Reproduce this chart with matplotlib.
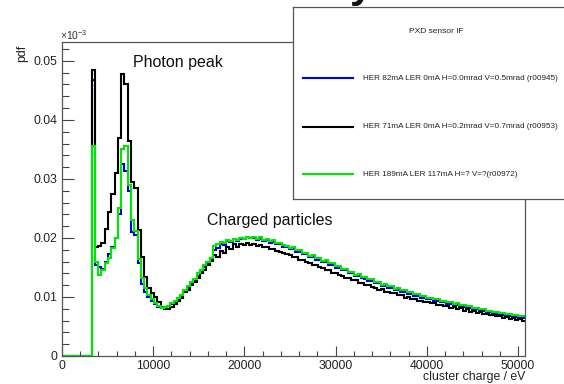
import numpy as np
import matplotlib
matplotlib.use('Agg')
import matplotlib.pyplot as plt
from matplotlib.ticker import MultipleLocator, FuncFormatter

plt.rcParams['font.family'] = ['Liberation Sans', 'DejaVu Sans']
plt.rcParams['mathtext.fontset'] = 'custom'
plt.rcParams['mathtext.rm'] = 'Liberation Sans'
plt.rcParams['mathtext.it'] = 'Liberation Sans:italic'

BIN_WIDTH = 360   # eV
N_BINS = 141
N_EMPTY = 9       # bins below threshold (all zero)

# pdf per bin, in the axis units (x10^-3 is shown separately) times 1000
# bins 9 .. 140
her82_r945 = [
    46.8, 15.5, 15.0, 14.8, 16.0, 17.2, 18.5, 20.0, 24.0, 32.5,
    31.3, 28.0, 21.0, 20.5, 15.8, 12.2, 10.8, 10.0, 9.4, 8.8,
    8.3, 8.1, 8.2, 8.4, 8.8, 9.2, 9.7, 10.2, 11.0, 11.5,
    12.3, 12.8, 13.6, 14.3, 15.0, 15.7, 16.4, 17.9, 18.3, 18.9,
    18.8, 19.4, 19.3, 19.8, 19.5, 19.9, 19.8, 20.1, 20.0, 20.0,
    19.7, 19.9, 19.5, 19.6, 19.2, 19.3, 18.9, 18.9, 18.5, 18.5,
    18.1, 18.1, 17.7, 17.6, 17.2, 17.2, 16.8, 16.8, 16.3, 16.3,
    15.9, 15.9, 15.4, 15.4, 14.9, 14.9, 14.5, 14.5, 14.0, 14.0,
    13.6, 13.6, 13.2, 13.1, 12.7, 12.7, 12.3, 12.3, 11.9, 11.9,
    11.5, 11.5, 11.2, 11.1, 10.8, 10.8, 10.5, 10.5, 10.2, 10.2,
    9.9, 9.9, 9.6, 9.6, 9.4, 9.3, 9.1, 9.1, 8.8, 8.8,
    8.6, 8.6, 8.3, 8.3, 8.1, 8.1, 7.9, 7.9, 7.7, 7.6,
    7.4, 7.4, 7.2, 7.2, 7.0, 7.0, 6.8, 6.8, 6.7, 6.6,
    6.5, 6.4,
]
her71_r953 = [
    48.5, 18.4, 18.6, 19.1, 21.6, 24.4, 27.5, 31.0, 37.0, 47.8,
    46.0, 36.5, 29.5, 28.5, 21.3, 16.8, 13.4, 11.5, 10.7, 10.0,
    9.2, 8.3, 7.9, 8.0, 8.3, 8.8, 9.3, 9.9, 10.8, 11.2,
    12.0, 12.5, 13.2, 14.0, 14.6, 15.4, 16.1, 17.1, 16.8, 17.8,
    17.5, 18.5, 18.1, 18.9, 18.5, 19.0, 18.8, 19.1, 18.8, 18.9,
    18.7, 18.8, 18.4, 18.5, 18.1, 18.2, 17.8, 17.7, 17.5, 17.2,
    17.1, 16.8, 16.7, 16.3, 16.3, 15.9, 15.8, 15.4, 15.4, 15.0,
    14.9, 14.5, 14.5, 14.1, 14.0, 13.7, 13.6, 13.3, 13.2, 12.8,
    12.8, 12.4, 12.4, 12.0, 12.0, 11.7, 11.6, 11.2, 11.3, 10.9,
    10.9, 10.6, 10.6, 10.3, 10.3, 9.9, 10.0, 9.7, 9.7, 9.4,
    9.4, 9.1, 9.2, 8.9, 8.9, 8.6, 8.7, 8.4, 8.5, 8.1,
    8.3, 7.9, 8.1, 7.7, 7.9, 7.4, 7.6, 7.3, 7.5, 7.1,
    7.2, 6.9, 7.0, 6.7, 6.8, 6.5, 6.6, 6.3, 6.4, 6.1,
    6.2, 5.9,
]
her189_r972 = [
    35.5, 16.0, 13.7, 14.6, 15.8, 16.6, 18.3, 20.0, 25.0, 35.0,
    35.5, 29.0, 23.0, 21.2, 16.5, 13.2, 11.5, 10.4, 9.6, 8.9,
    8.4, 8.2, 8.3, 8.5, 8.9, 9.3, 9.9, 10.4, 11.2, 11.8,
    12.6, 13.1, 14.0, 14.6, 15.4, 16.0, 16.6, 18.6, 18.9, 19.3,
    19.2, 19.6, 19.5, 19.9, 19.7, 20.0, 19.9, 20.2, 20.0, 20.2,
    19.9, 20.1, 19.7, 19.8, 19.4, 19.6, 19.1, 19.2, 18.8, 18.7,
    18.3, 18.4, 17.9, 17.9, 17.5, 17.5, 17.0, 17.1, 16.6, 16.6,
    16.1, 16.2, 15.7, 15.7, 15.2, 15.2, 14.7, 14.8, 14.3, 14.3,
    13.8, 13.9, 13.4, 13.4, 13.0, 13.0, 12.5, 12.6, 12.1, 12.2,
    11.8, 11.8, 11.4, 11.5, 11.1, 11.1, 10.8, 10.8, 10.5, 10.5,
    10.2, 10.2, 9.9, 9.9, 9.6, 9.7, 9.3, 9.4, 9.1, 9.1,
    8.8, 8.9, 8.6, 8.6, 8.4, 8.4, 8.1, 8.2, 7.9, 7.9,
    7.7, 7.7, 7.5, 7.5, 7.3, 7.3, 7.1, 7.1, 6.9, 7.0,
    6.8, 6.8,
]

labels = ['HER 82mA LER 0mA H=0.0mrad V=0.5mrad (r00945)',
          'HER 71mA LER 0mA H=0.2mrad V=0.7mrad (r00953)',
          'HER 189mA LER 117mA H=? V=?(r00972)']
colors = ['#0000e6', '#000000', '#00e600']
series = [her82_r945, her71_r953, her189_r972]

edges = np.arange(N_BINS + 1) * BIN_WIDTH

fig = plt.figure(figsize=(5.64, 3.84), dpi=100)
ax = fig.add_axes([62 / 564, 28 / 384, 463 / 564, 314 / 384])

for vals, c in zip(series, colors):
    y = np.concatenate([np.zeros(N_EMPTY), vals]) / 1000
    ax.stairs(y, edges, color=c, lw=1.5, baseline=None)

ax.set_xlim(edges[0], edges[-1])
ax.set_ylim(0, 0.0532)

ax.xaxis.set_major_locator(MultipleLocator(10000))
ax.xaxis.set_minor_locator(MultipleLocator(2000))
ax.yaxis.set_major_locator(MultipleLocator(0.01))
ax.yaxis.set_minor_locator(MultipleLocator(0.002))
ax.yaxis.set_major_formatter(FuncFormatter(lambda v, p: f'{v:g}'))
ax.xaxis.set_major_formatter(FuncFormatter(lambda v, p: f'{v:g}'))

ax.tick_params(which='both', direction='in', top=False, right=False,
               color='#444444', labelsize=8.8, labelcolor='#222222', width=0.8)
ax.tick_params(axis='x', which='major', length=7.2, pad=3.2)
ax.tick_params(axis='x', which='minor', length=3.6)
ax.tick_params(axis='y', which='major', length=8.6, pad=3.0)
ax.tick_params(axis='y', which='minor', length=4.8)
for s in ax.spines.values():
    s.set_color('#555555')
    s.set_linewidth(0.9)

ax.text(7830, 0.0489, 'Photon peak', fontsize=11.5, va='baseline', color='#111111')
ax.text(15860, 0.0222, 'Charged particles', fontsize=11.5, va='baseline', color='#111111')

fig.text(60 / 564, 1 - 42 / 384, r'$\times$10$^{-3}$', fontsize=7.5, va='bottom',
         ha='left', color='#333333')
fig.text(22 / 564, 1 - 45 / 384, 'pdf', rotation=90, fontsize=8.8, va='top',
         ha='center', color='#222222')
fig.text(525 / 564, 1 - 380 / 384, 'cluster charge / eV', fontsize=8.8, va='baseline',
         ha='right', color='#222222')

# cut-off slide title letter at the top
fig.text(350 / 564, 1 + 3 / 384, 'y', fontsize=30, fontweight='bold', va='baseline',
         ha='left', color='#111111')

# legend box (ROOT TLegend style)
lax = fig.add_axes([293 / 564, 1 - 199 / 384, (600 - 293) / 564, 192 / 384])
lax.set_zorder(5)
lax.set_xlim(293, 600)
lax.set_ylim(199, 7)
lax.set_xticks([])
lax.set_yticks([])
lax.set_facecolor('white')
for s in lax.spines.values():
    s.set_color('#555555')
    s.set_linewidth(0.9)
lax.text(436.7, 31.7, 'PXD sensor IF', fontsize=6, ha='center', va='center', color='#222222')
for yy, lab, c in zip([78, 127, 174], labels, colors):
    lax.plot([303, 353], [yy, yy], color=c, lw=1.5)
    lax.text(362.7, yy, lab, fontsize=5.9, ha='left', va='center', color='#222222')

fig.savefig('out.png', dpi=100)
